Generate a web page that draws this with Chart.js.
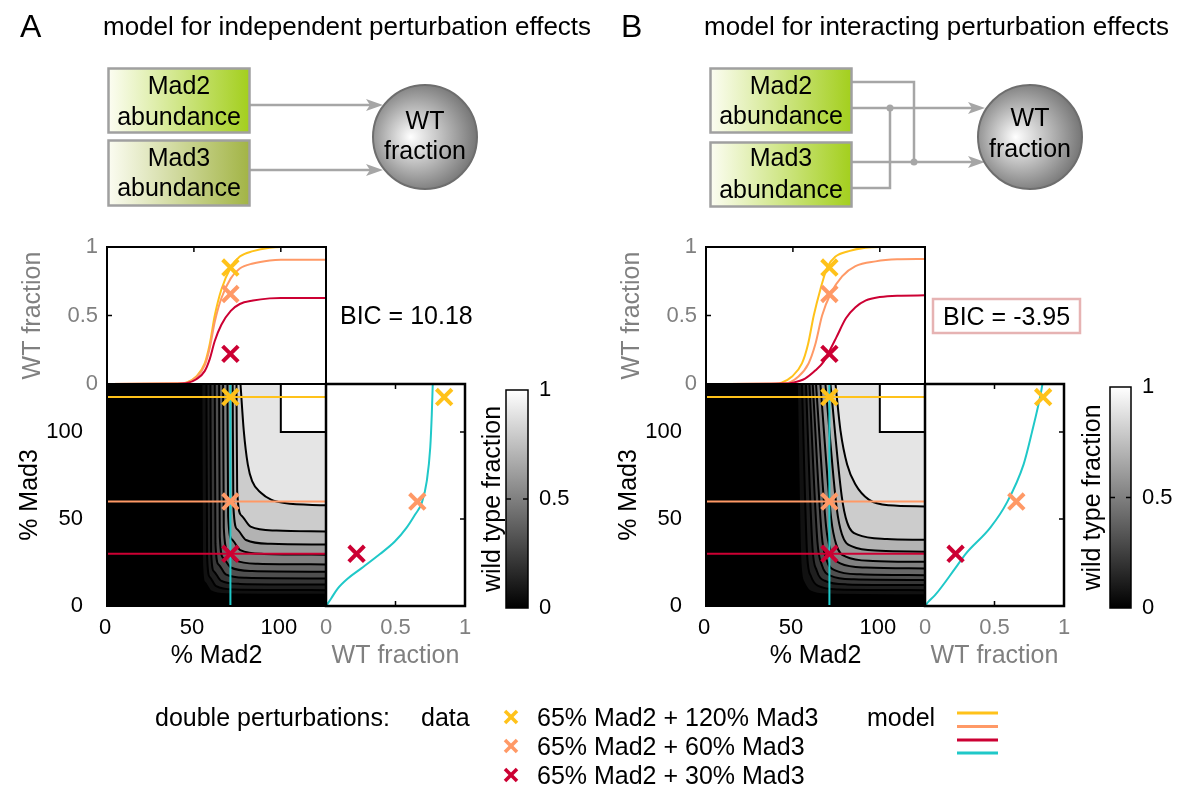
<!DOCTYPE html>
<html>
<head>
<meta charset="utf-8">
<title>Mad2 / Mad3 double perturbations</title>
<script src="https://cdn.jsdelivr.net/npm/chart.js@4.4.1/dist/chart.umd.min.js"></script>
<style>
  html, body { margin: 0; padding: 0; background: #fff; }
  #fig { position: relative; width: 1182px; height: 792px; overflow: hidden; }
  #fig canvas, #fig svg { position: absolute; left: 0; top: 0; }
  svg text { font-family: 'Liberation Sans', Arial, Helvetica, sans-serif; fill: #000; }
</style>
</head>
<body>
<div id="fig">
<svg width="1182" height="792" viewBox="0 0 1182 792">
  <defs>
    <linearGradient id="boxLime" x1="0" x2="1" y1="0" y2="0">
      <stop offset="0" stop-color="#fcfdf2"/><stop offset="1" stop-color="#a3cf1d"/>
    </linearGradient>
    <linearGradient id="boxOlive" x1="0" x2="1" y1="0" y2="0">
      <stop offset="0" stop-color="#fbfcf1"/><stop offset="1" stop-color="#a2b445"/>
    </linearGradient>
    <radialGradient id="ball" cx="0.45" cy="0.5" r="0.55" fx="0.36" fy="0.5">
      <stop offset="0" stop-color="#ffffff"/><stop offset="1" stop-color="#767676"/>
    </radialGradient>
  </defs>

  <!-- panel headings -->
  <text x="20" y="26" font-size="32" dominant-baseline="central">A</text>
  <text x="103" y="26" font-size="26" dominant-baseline="central">model for independent perturbation effects</text>
  <text x="621" y="26" font-size="32" dominant-baseline="central">B</text>
  <text x="704" y="26" font-size="26" dominant-baseline="central">model for interacting perturbation effects</text>

  <!-- A: independent inputs -->
  <g stroke="#a6a6a6" stroke-width="2.5" fill="none">
    <line x1="249" y1="105" x2="372" y2="105"/>
    <line x1="249" y1="170" x2="372" y2="170"/>
  </g>
  <g fill="#a6a6a6">
    <polygon points="383,105 366,99 370,105 366,111"/>
    <polygon points="383,170 366,164 370,170 366,176"/>
  </g>
  <rect x="108.5" y="68.5" width="141" height="64" fill="url(#boxLime)" stroke="#a0a0a0" stroke-width="2.5"/>
  <rect x="108.5" y="140.5" width="141" height="65" fill="url(#boxOlive)" stroke="#a0a0a0" stroke-width="2.5"/>
  <g font-size="25" text-anchor="middle" dominant-baseline="central">
    <text x="179" y="85">Mad2</text><text x="179" y="116">abundance</text>
    <text x="179" y="157">Mad3</text><text x="179" y="187">abundance</text>
  </g>
  <circle cx="425" cy="137" r="52" fill="url(#ball)" stroke="#6e6e6e" stroke-width="2"/>
  <g font-size="25" text-anchor="middle" dominant-baseline="central">
    <text x="425" y="120">WT</text><text x="425" y="150">fraction</text>
  </g>

  <!-- B: interacting inputs -->
  <g stroke="#a6a6a6" stroke-width="2.5" fill="none">
    <polyline points="851,82 914,82 914,162"/>
    <polyline points="851,188 890,188 890,108"/>
    <line x1="851" y1="108" x2="974" y2="108"/>
    <line x1="851" y1="162" x2="974" y2="162"/>
  </g>
  <g fill="#a6a6a6">
    <circle cx="890" cy="108" r="3.5"/><circle cx="914" cy="162" r="3.5"/>
    <polygon points="985,108 968,102 972,108 968,114"/>
    <polygon points="985,162 968,156 972,162 968,168"/>
  </g>
  <rect x="710.5" y="68.5" width="141" height="64" fill="url(#boxLime)" stroke="#a0a0a0" stroke-width="2.5"/>
  <rect x="710.5" y="142.5" width="141" height="64" fill="url(#boxLime)" stroke="#a0a0a0" stroke-width="2.5"/>
  <g font-size="25" text-anchor="middle" dominant-baseline="central">
    <text x="781" y="85">Mad2</text><text x="781" y="115">abundance</text>
    <text x="781" y="157">Mad3</text><text x="781" y="189">abundance</text>
  </g>
  <circle cx="1030" cy="137" r="52" fill="url(#ball)" stroke="#6e6e6e" stroke-width="2"/>
  <g font-size="25" text-anchor="middle" dominant-baseline="central">
    <text x="1030" y="117">WT</text><text x="1030" y="148">fraction</text>
  </g>

  <!-- fit scores -->
  <text x="340" y="315" font-size="25" dominant-baseline="central">BIC = 10.18</text>
  <rect x="933" y="299" width="147" height="34" fill="none" stroke="#e6b3b3" stroke-width="2.5"/>
  <text x="943" y="316" font-size="25" dominant-baseline="central">BIC = -3.95</text>

  <!-- legend -->
  <g font-size="25" dominant-baseline="central">
    <text x="155" y="717">double perturbations:</text>
    <text x="421" y="717">data</text>
    <text id="lg0" x="537" y="717"></text>
    <text id="lg1" x="537" y="746"></text>
    <text id="lg2" x="537" y="775"></text>
    <text x="867" y="717">model</text>
  </g>
  <g id="legendMarks" stroke-width="3.5"></g>
</svg>
</div>

<script>
// ---------------- data ----------------
const mad2Ticks = [0, 50, 100];
const mad3Ticks = [0, 50, 100];
const wtTicks = [0, 0.5, 1];

const doseLabels = ['65% Mad2 + 120% Mad3', '65% Mad2 + 60% Mad3', '65% Mad2 + 30% Mad3'];
const doseColors = ['#ffc21a', '#ff9966', '#cc0033'];
const cyan = '#1fc8c8';
const grayText = '#808080';

// measured double perturbations (same data in both panels)
const dataMad2 = 71;
const dataMad3 = [120, 60, 30];
const dataWT = [0.85, 0.657, 0.22];

// model A: WT fraction vs % Mad2 at 120 / 60 / 30 % Mad3
const mad2A = [0, 40, 45.6, 51.4, 56.2, 59.1, 62, 65.8, 71.2, 76.4, 84, 93.6, 100, 126];
const wtA120 = [0, 0.003, 0.01, 0.055, 0.15, 0.29, 0.5, 0.69, 0.85, 0.93, 0.97, 0.995, 1, 1];
const wtA60 = [0, 0.003, 0.009, 0.05, 0.136, 0.263, 0.454, 0.626, 0.771, 0.843, 0.88, 0.902, 0.907, 0.907];
const wtA30 = [0, 0.002, 0.006, 0.035, 0.094, 0.182, 0.314, 0.433, 0.534, 0.584, 0.609, 0.625, 0.628, 0.628];

// model B
const mad2B120 = [0, 40, 43.5, 49.5, 55.2, 58.7, 62, 65.8, 69.7, 74.5, 82.2, 91.8, 100, 126];
const wtB120 = [0, 0.002, 0.01, 0.055, 0.15, 0.29, 0.5, 0.69, 0.85, 0.93, 0.97, 0.995, 1, 1];
const mad2B60 = [0, 45, 53.2, 59, 62.9, 66.8, 71.6, 78.3, 86, 97.6, 110, 126];
const wtB60 = [0, 0.003, 0.055, 0.15, 0.29, 0.5, 0.657, 0.786, 0.86, 0.895, 0.91, 0.913];
const mad2B30 = [0, 45, 50, 57, 63, 67.5, 71, 75, 80.5, 86, 92, 100, 110, 126];
const wtB30 = [0, 0.003, 0.01, 0.04, 0.1, 0.16, 0.24, 0.34, 0.48, 0.56, 0.61, 0.635, 0.645, 0.647];

// model WT fraction vs % Mad3 at the measured Mad2 level
const cyanMad3A = [0, 4.2, 10, 15.8, 21.6, 29.7, 37, 45, 52.4, 59.5, 71.7, 91, 110, 127.5];
const cyanWTA = [0, 0.036, 0.084, 0.157, 0.254, 0.386, 0.495, 0.58, 0.64, 0.69, 0.725, 0.75, 0.761, 0.768];
const cyanMad3B = [0, 2.5, 6.2, 21.6, 29.7, 45, 59.5, 81.5, 100, 120.8, 127.5];
const cyanWTB = [0, 0.025, 0.072, 0.217, 0.29, 0.47, 0.59, 0.71, 0.77, 0.83, 0.845];

// iso-lines of the model surface (% Mad2, % Mad3), outermost first
const isoA_mad2 = [
  [54.3, 54.7, 56.1, 59.6, 69.3, 126],
  [57.2, 57.6, 59.1, 62.8, 73.2, 126],
  [59.5, 59.9, 61.5, 65.5, 76.5, 126],
  [62.0, 62.4, 64.2, 68.3, 80.0, 126],
  [64.5, 64.9, 66.8, 71.2, 83.5, 126],
  [66.8, 67.2, 69.2, 73.8, 86.8, 126],
  [69.3, 69.7, 71.8, 76.7, 90.3, 126],
  [72.3, 72.7, 74.9, 80.0, 94.3, 126],
  [74.5, 74.9, 77.3, 82.6, 97.5, 126],
  [76.8, 78.7, 81.0, 83.5, 88.7, 94.4, 102.2, 126]
];
const isoA_mad3 = [
  [127.5, 24.4, 13.6, 8.6, 6.8, 6.4],
  [127.5, 28.1, 16.7, 11.4, 9.5, 9.1],
  [127.5, 31.3, 19.9, 14.6, 12.7, 12.3],
  [127.5, 35.8, 23.8, 18.2, 16.2, 15.8],
  [127.5, 39.7, 27.7, 22.1, 20.1, 19.7],
  [127.5, 44.9, 32.3, 26.4, 24.3, 23.9],
  [127.5, 51.5, 38.3, 32.1, 29.9, 29.5],
  [127.5, 57.3, 44.1, 37.9, 35.7, 35.3],
  [127.5, 65.8, 52.0, 45.6, 43.3, 42.8],
  [127.5, 100.6, 81.3, 71.7, 64.9, 61.1, 59.1, 57.8]
];
const isoB_mad2 = [
  [52.3, 54.4, 56.3, 60.0, 70.4, 126],
  [55.2, 58.2, 60.4, 64.5, 76.2, 126],
  [57.5, 61.3, 63.7, 68.3, 81.3, 126],
  [59.5, 64.1, 66.6, 71.5, 85.1, 126],
  [61.4, 66.6, 69.2, 74.3, 88.6, 126],
  [63.3, 69.1, 71.9, 77.2, 92.1, 126],
  [65.8, 72.0, 74.9, 80.4, 96.0, 126],
  [68.7, 75.2, 78.2, 84.0, 100.2, 126],
  [71.6, 78.1, 81.2, 87.2, 104.1, 126],
  [74.5, 77.4, 81.2, 86.0, 93.7, 105.2, 126]
];
const isoB_mad3 = [
  [127.5, 24.2, 13.4, 8.4, 6.6, 6.2],
  [127.5, 29.1, 17.1, 11.5, 9.5, 9.1],
  [127.5, 33.0, 20.4, 14.5, 12.4, 12.0],
  [127.5, 36.9, 23.7, 17.5, 15.3, 14.9],
  [127.5, 40.7, 26.9, 20.5, 18.2, 17.7],
  [127.5, 45.6, 31.2, 24.5, 22.1, 21.6],
  [127.5, 50.4, 35.4, 28.4, 25.9, 25.4],
  [127.5, 56.2, 41.2, 34.2, 31.7, 31.2],
  [127.5, 63.0, 48.0, 41.0, 38.5, 38.0],
  [127.5, 100.6, 81.3, 69.8, 61.1, 57.8, 57.2]
];
// saturated corner (WT fraction = 1)
const satMad2 = [100, 100, 126];
const satMad3 = [127.5, 100, 100];
const bandGrays = ['#111111', '#1f1f1f', '#363636', '#4f4f4f', '#686868',
                   '#818181', '#9a9a9a', '#b3b3b3', '#cccccc', '#e5e5e5'];

// ---------------- helpers ----------------
const W = 1182, H = 792;
const fig = document.getElementById('fig');
Chart.defaults.font.family = "'Liberation Sans', Arial, Helvetica, sans-serif";
Chart.defaults.font.size = 22;
Chart.defaults.color = '#000';
Chart.defaults.animation = false;
Chart.defaults.events = [];
Chart.defaults.plugins.legend.display = false;
Chart.defaults.plugins.tooltip.enabled = false;

function newCanvas() {
  const c = document.createElement('canvas');
  c.width = W; c.height = H;
  fig.insertBefore(c, fig.querySelector('svg'));
  return c;
}
// area = [left, top, right, bottom] of the plot box
function place(area, wL, wR, hB) {
  return { left: area[0] - wL, top: area[1], right: W - area[2] - wR, bottom: H - area[3] - hB };
}
const fixTicks = vals => s => { s.ticks = vals.map(v => ({ value: v })); };
const fixW = w => s => { s.width = w; };
const fixH = h => s => { s.height = h; };
const plain = v => String(v);
const pts = (xs, ys) => xs.map((x, i) => ({ x: x, y: ys[i] }));
const noGrid = { display: false, drawTicks: false };

// box, inward tick marks and optional background of each axes
const framePlugin = {
  id: 'frame',
  beforeDatasetsDraw(chart, args, o) {
    if (!o.fill) return;
    const a = chart.chartArea, ctx = chart.ctx;
    ctx.save();
    ctx.fillStyle = o.fill;
    ctx.fillRect(a.left, a.top, a.right - a.left, a.bottom - a.top);
    ctx.restore();
  },
  afterDatasetsDraw(chart, args, o) {
    const a = chart.chartArea, ctx = chart.ctx;
    const sx = chart.scales.x, sy = chart.scales.y;
    const len = 5;
    ctx.save();
    ctx.strokeStyle = '#000';
    ctx.lineWidth = 1.5;
    ctx.beginPath();
    (o.top || []).forEach(v => { const p = sx.getPixelForValue(v); ctx.moveTo(p, a.top); ctx.lineTo(p, a.top + len); });
    (o.bottom || []).forEach(v => { const p = sx.getPixelForValue(v); ctx.moveTo(p, a.bottom); ctx.lineTo(p, a.bottom - len); });
    (o.left || []).forEach(v => { const p = sy.getPixelForValue(v); ctx.moveTo(a.left, p); ctx.lineTo(a.left + len, p); });
    (o.right || []).forEach(v => { const p = sy.getPixelForValue(v); ctx.moveTo(a.right, p); ctx.lineTo(a.right - len, p); });
    ctx.stroke();
    ctx.lineWidth = o.width || 2;
    ctx.strokeRect(a.left, a.top, a.right - a.left, a.bottom - a.top);
    ctx.restore();
  }
};
Chart.register(framePlugin);

function crossSet(xs, ys) {
  return {
    data: pts(xs, ys), showLine: false, order: 0,
    pointStyle: 'crossRot', pointRadius: 11, pointBorderWidth: 4,
    pointBorderColor: doseColors, pointBackgroundColor: doseColors
  };
}

// WT fraction vs % Mad2
function topPlot(area, curves) {
  const datasets = [crossSet(dataMad3.map(() => dataMad2), dataWT)];
  curves.forEach((c, i) => datasets.push({
    data: pts(c[0], c[1]), borderColor: doseColors[i], borderWidth: 2,
    pointRadius: 0, cubicInterpolationMode: 'monotone', order: 3 - i
  }));
  new Chart(newCanvas(), {
    type: 'line',
    data: { datasets: datasets },
    options: {
      responsive: false, devicePixelRatio: 1,
      layout: { padding: place(area, 107, 0, 0) },
      plugins: { frame: { top: [50, 100], left: [0.5] } },
      scales: {
        x: { type: 'linear', min: 0, max: 126, display: false },
        y: {
          type: 'linear', min: 0, max: 1,
          afterBuildTicks: fixTicks(wtTicks), afterFit: fixW(107),
          grid: noGrid, border: { display: false },
          ticks: { color: grayText, padding: 9, callback: plain },
          title: { display: true, text: 'WT fraction', color: grayText, font: { size: 25 }, padding: { top: 18 } }
        }
      }
    }
  });
}

// filled iso-lines of WT fraction over % Mad2 x % Mad3
function surfacePlot(area, isoX, isoY) {
  const datasets = [];
  isoX.forEach((xs, i) => datasets.push({
    data: pts(xs, isoY[i]), borderColor: '#000', borderWidth: 2,
    backgroundColor: bandGrays[i], fill: 'end',
    pointRadius: 0, cubicInterpolationMode: 'monotone', order: 30 - i
  }));
  datasets.push({
    data: pts(satMad2, satMad3), borderColor: '#000', borderWidth: 2,
    backgroundColor: '#ffffff', fill: 'end', pointRadius: 0, tension: 0, order: 15
  });
  dataMad3.forEach((m, i) => datasets.push({
    data: pts([0, 126], [m, m]), borderColor: doseColors[i], borderWidth: 2,
    pointRadius: 0, order: 3
  }));
  datasets.push({
    data: pts([dataMad2, dataMad2], [0, 127.5]), borderColor: cyan, borderWidth: 2,
    pointRadius: 0, order: 2
  });
  datasets.push(crossSet(dataMad3.map(() => dataMad2), dataMad3));
  new Chart(newCanvas(), {
    type: 'line',
    data: { datasets: datasets },
    options: {
      responsive: false, devicePixelRatio: 1,
      layout: { padding: place(area, 107, 0, 70) },
      plugins: { frame: { fill: '#000' } },
      scales: {
        x: {
          type: 'linear', min: 0, max: 126,
          afterBuildTicks: fixTicks(mad2Ticks), afterFit: fixH(70),
          grid: noGrid, border: { display: false },
          ticks: { padding: 9, labelOffset: -2, callback: plain },
          title: { display: true, text: '% Mad2', font: { size: 25 }, padding: { bottom: 5 } }
        },
        y: {
          type: 'linear', min: 0, max: 127.5,
          afterBuildTicks: fixTicks(mad3Ticks), afterFit: fixW(107),
          grid: noGrid, border: { display: false },
          ticks: { padding: 24, callback: plain },
          title: { display: true, text: '% Mad3', font: { size: 25 }, padding: { top: 15 } }
        }
      }
    }
  });
}

// WT fraction vs % Mad3
function sidePlot(area, wt, mad3) {
  new Chart(newCanvas(), {
    type: 'line',
    data: {
      datasets: [
        crossSet(dataWT, dataMad3),
        { data: pts(wt, mad3), borderColor: cyan, borderWidth: 2, pointRadius: 0,
          cubicInterpolationMode: 'monotone', order: 1 }
      ]
    },
    options: {
      responsive: false, devicePixelRatio: 1,
      layout: { padding: place(area, 0, 0, 70) },
      plugins: { frame: { top: [0.5], bottom: [0.5], right: [50, 100], width: 2.5 } },
      scales: {
        x: {
          type: 'linear', min: 0, max: 1,
          afterBuildTicks: fixTicks(wtTicks), afterFit: fixH(70),
          grid: noGrid, border: { display: false },
          ticks: { color: grayText, padding: 9, callback: plain },
          title: { display: true, text: 'WT fraction', color: grayText, font: { size: 25 }, padding: { bottom: 5 } }
        },
        y: { type: 'linear', min: 0, max: 127.5, display: false }
      }
    }
  });
}

// gray colour scale 0..1
function colorBar(area, wTitle, titlePad) {
  new Chart(newCanvas(), {
    type: 'bar',
    data: {
      labels: [''],
      datasets: [{
        data: [[0, 1]], borderWidth: 0, barPercentage: 1, categoryPercentage: 1,
        backgroundColor: ctx => {
          const a = ctx.chart.chartArea;
          if (!a) return '#808080';
          const g = ctx.chart.ctx.createLinearGradient(0, a.bottom, 0, a.top);
          g.addColorStop(0, '#000000');
          g.addColorStop(1, '#ffffff');
          return g;
        }
      }]
    },
    options: {
      responsive: false, devicePixelRatio: 1,
      layout: { padding: place(area, wTitle, 60, 0) },
      plugins: { frame: { left: [0.5], right: [0.5], width: 1.5 } },
      scales: {
        x: { type: 'category', display: false },
        y: {
          type: 'linear', position: 'right', min: 0, max: 1,
          afterBuildTicks: fixTicks(wtTicks), afterFit: fixW(60),
          grid: noGrid, border: { display: false },
          ticks: { padding: 11, callback: plain }
        },
        yTitle: {
          type: 'linear', axis: 'y', position: 'left', min: 0, max: 1,
          afterFit: fixW(wTitle),
          grid: noGrid, border: { display: false },
          ticks: { display: false },
          title: { display: true, text: 'wild type fraction', font: { size: 25 }, padding: { top: titlePad } }
        }
      }
    }
  });
}

// ---------------- panel A ----------------
topPlot([107, 247, 326, 384], [[mad2A, wtA120], [mad2A, wtA60], [mad2A, wtA30]]);
surfacePlot([107, 384, 326, 606], isoA_mad2, isoA_mad3);
sidePlot([326, 384, 465, 606], cyanWTA, cyanMad3A);
colorBar([506, 390, 528, 608], 30, 2);

// ---------------- panel B ----------------
topPlot([706, 247, 925, 384], [[mad2B120, wtB120], [mad2B60, wtB60], [mad2B30, wtB30]]);
surfacePlot([706, 384, 925, 606], isoB_mad2, isoB_mad3);
sidePlot([925, 384, 1064, 606], cyanWTB, cyanMad3B);
colorBar([1110, 387, 1131, 608], 32, 0);

// ---------------- legend ----------------
const NS = 'http://www.w3.org/2000/svg';
const marks = document.getElementById('legendMarks');
doseLabels.forEach((t, i) => {
  document.getElementById('lg' + i).textContent = t;
  const y = 717 + 29 * i;
  [[505, y - 6, 517, y + 6], [505, y + 6, 517, y - 6]].forEach(l => {
    const ln = document.createElementNS(NS, 'line');
    ln.setAttribute('x1', l[0]); ln.setAttribute('y1', l[1]);
    ln.setAttribute('x2', l[2]); ln.setAttribute('y2', l[3]);
    ln.setAttribute('stroke', doseColors[i]);
    marks.appendChild(ln);
  });
});
doseColors.concat([cyan]).forEach((c, i) => {
  const ln = document.createElementNS(NS, 'line');
  const y = [713, 726.5, 740, 753][i];
  ln.setAttribute('x1', 957); ln.setAttribute('x2', 998);
  ln.setAttribute('y1', y); ln.setAttribute('y2', y);
  ln.setAttribute('stroke', c); ln.setAttribute('stroke-width', 3);
  marks.appendChild(ln);
});
</script>
</body>
</html>
